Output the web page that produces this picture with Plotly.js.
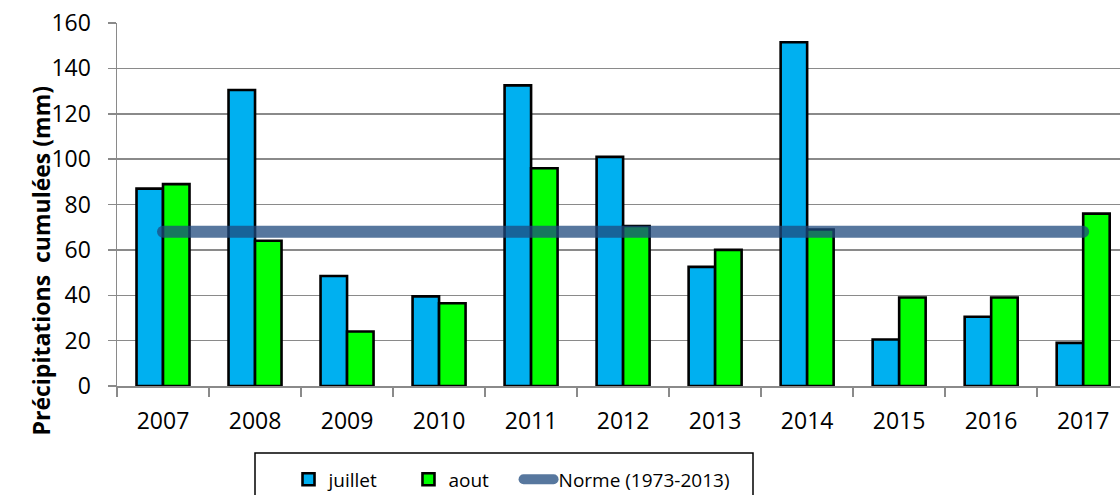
<!DOCTYPE html>
<html>
<head>
<meta charset="utf-8">
<script src="https://cdn.plot.ly/plotly-3.0.1.min.js"></script>
<style>
  body { margin: 0; background: #fff; }
  #chart { width: 1120px; height: 495px; }
  .js-line { stroke-linecap: round; }
</style>
</head>
<body>
<div id="chart"></div>
<script>
// years (categories)
var years = ["2007","2008","2009","2010","2011","2012","2013","2014","2015","2016","2017"];
// cumulated precipitation, mm
var juillet = [87, 130.5, 48.5, 39.5, 132.5, 101, 52.5, 151.5, 20.5, 30.5, 19];
var aout = [89, 64, 24, 36.5, 96, 70.5, 60, 69, 39, 39, 76];
// normal 1973-2013
var norme = [68, 68, 68, 68, 68, 68, 68, 68, 68, 68, 68];

var yTicks = [0, 20, 40, 60, 80, 100, 120, 140, 160];

var fnt = "Open Sans, sans-serif";
var gray = "#8a8a8a";
var pad = "\u00a0";

var data = [
  {
    x: years, y: juillet, name: "juillet" + pad.repeat(5), type: "bar",
    marker: {color: "#00b0f0", line: {color: "#000", width: 2.6}}
  },
  {
    x: years, y: aout, name: "aout" + pad.repeat(5), type: "bar",
    marker: {color: "#00ff00", line: {color: "#000", width: 2.6}}
  },
  {
    x: years, y: norme, name: "Norme (1973-2013)", type: "scatter", mode: "lines",
    line: {color: "rgba(31,73,125,0.75)", width: 12}
  }
];

var layout = {
  width: 1120, height: 495,
  margin: {l: 117, r: 0, t: 23, b: 109, autoexpand: false},
  paper_bgcolor: "#fff", plot_bgcolor: "#fff",
  font: {family: fnt, size: 23, color: "#000"},
  barmode: "group", bargap: 0.424, bargroupgap: 0,
  showlegend: true,
  xaxis: {
    type: "category",
    range: [-0.5, 10.4],
    tickson: "boundaries",
    ticks: "outside", ticklen: 9, tickwidth: 1.5, tickcolor: gray,
    ticklabelstandoff: 14,
    showgrid: false, showline: true, linecolor: gray, linewidth: 1.5,
    zeroline: false,
    tickfont: {size: 23}
  },
  yaxis: {
    range: [0, 160],
    tickvals: yTicks,
    ticks: "outside", ticklen: 8, tickwidth: 1.5, tickcolor: gray,
    ticklabelstandoff: 12,
    showgrid: true, gridcolor: gray, gridwidth: 1.5,
    showline: true, linecolor: gray, linewidth: 1.5,
    zeroline: false,
    tickfont: {size: 23}
  },
  legend: {
    orientation: "h",
    x: 0.171, xanchor: "left",
    y: -0.205, yanchor: "top",
    font: {size: 19},
    bgcolor: "rgba(0,0,0,0)",
    borderwidth: 0
  },
  annotations: [{
    xref: "paper", yref: "paper",
    x: -0.094, y: 0.345,
    text: "<b>Précipitations\u00a0 cumulées (mm)</b>",
    textangle: -90, showarrow: false,
    font: {family: fnt, size: 23, color: "#000"}
  }],
  shapes: [{
    type: "rect", xref: "paper", yref: "paper",
    x0: (255 - 117) / 1003, x1: (753 - 117) / 1003,
    y0: (386 - 453) / 363, y1: (386 - 505) / 363,
    line: {color: "#000", width: 1.5}
  }]
};

Plotly.newPlot("chart", data, layout, {displayModeBar: false, staticPlot: true});
</script>
</body>
</html>
